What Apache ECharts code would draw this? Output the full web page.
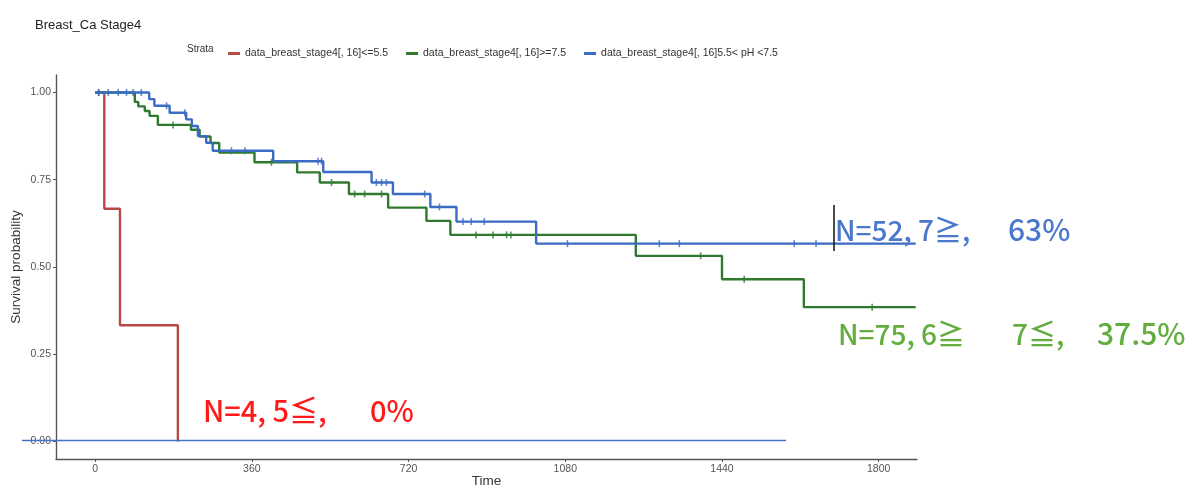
<!DOCTYPE html>
<html>
<head>
<meta charset="utf-8">
<script src="https://cdn.jsdelivr.net/npm/echarts@6/dist/echarts.min.js"></script>
<style>
html,body{margin:0;padding:0;background:#fff;overflow:hidden;}
#c{width:1196px;height:486px;}
</style>
</head>
<body>
<div id="c"></div>
<script>
// ---- data ----
const seriesNames = ['data_breast_stage4[, 16]<=5.5', 'data_breast_stage4[, 16]>=7.5', 'data_breast_stage4[, 16]5.5< pH <7.5'];
const redSteps = [[0,1],[21,0.667],[57,0.333],[190,0]];
const greenSteps = [[0,1],[91,0.973],[99,0.96],[114,0.947],[125,0.933],[144,0.907],[220,0.893],[240,0.874],[265,0.855],[285,0.828],[366,0.800],[464,0.771],[516,0.742],[583,0.709],[673,0.670],[761,0.632],[816,0.592],[1242,0.532],[1440,0.465],[1628,0.385],[1885,0.385]];
const blueSteps = [[0,1],[124,0.981],[136,0.962],[171,0.942],[209,0.923],[222,0.904],[236,0.875],[255,0.856],[270,0.833],[409,0.803],[524,0.772],[635,0.742],[684,0.709],[770,0.672],[830,0.630],[1013,0.567],[1885,0.567]];
const greenCensor = [[8,1],[179,0.907],[405,0.800],[543,0.742],[596,0.709],[619,0.709],[658,0.709],[875,0.592],[914,0.592],[945,0.592],[955,0.592],[1391,0.532],[1491,0.465],[1785,0.385]];
const blueCensor = [[8,1],[30,1],[53,1],[72,1],[87,1],[106,1],[164,0.962],[206,0.942],[313,0.833],[344,0.833],[512,0.803],[520,0.803],[646,0.742],[658,0.742],[669,0.742],[757,0.709],[791,0.672],[845,0.630],[864,0.630],[894,0.630],[1085,0.567],[1296,0.567],[1342,0.567],[1606,0.567],[1656,0.567]];
const xTicks = [0,360,720,1080,1440,1800];
const yTicks = [0,0.25,0.5,0.75,1];
const noteRed = ['N=4, 5≦,', '0%'];
const noteBlue = ['N=52, 7≧,', '63%'];
const noteGreen = ['N=75, 6≧', '7≦,', '37.5%'];

const cRed = '#b84a46', cGreen = '#2f7a2f', cBlue = '#3b6cc4';
const axisFont = 'Liberation Sans';

const chart = echarts.init(document.getElementById('c'), null, {renderer:'canvas', width:1196, height:486});

function stepLine(name, data, color){
  return {name, type:'line', step:'end', data, showSymbol:false, symbol:'none',
    lineStyle:{color, width:2.4}, itemStyle:{color}, animation:false, z:3};
}
function censor(name, data, color){
  return {name, type:'scatter', data, symbol:'rect', symbolSize:[1.6,7],
    itemStyle:{color}, animation:false, z:4, silent:true};
}

const option = {
  backgroundColor:'#fff',
  animation:false,
  title:{text:'Breast_Ca Stage4', left:30, top:14,
    textStyle:{fontFamily:axisFont, fontSize:13, fontWeight:'normal', color:'#222'}},
  legend:{
    data:seriesNames.map((n,i)=>({name:n, icon:'rect'})),
    left:223, top:43, itemWidth:12, itemHeight:3, itemGap:18,
    textStyle:{fontFamily:axisFont, fontSize:10.5, color:'#333'}
  },
  grid:{left:56, width:861, top:75, height:384, containLabel:false, outerBoundsMode:'none'},
  xAxis:{type:'value', min:-90, max:1888,
    name:'Time', nameLocation:'middle', nameGap:15, nameMoveOverlap:false,
    nameTextStyle:{fontFamily:axisFont, fontSize:13.5, color:'#333'},
    axisLine:{show:true, onZero:false, lineStyle:{color:'#555', width:1.4}},
    axisTick:{show:true, length:3, customValues:xTicks, lineStyle:{color:'#555'}},
    axisLabel:{customValues:xTicks, formatter:v=>String(v), fontFamily:axisFont, fontSize:10.5, color:'#555', margin:5},
    splitLine:{show:false}},
  yAxis:{type:'value', min:-0.05, max:1.05,
    name:'Survival probability', nameLocation:'middle', nameGap:33, nameRotate:90, nameMoveOverlap:false,
    nameTextStyle:{fontFamily:axisFont, fontSize:13.5, color:'#333'},
    axisLine:{show:true, onZero:false, lineStyle:{color:'#555', width:1.4}},
    axisTick:{show:true, length:3, customValues:yTicks, lineStyle:{color:'#555'}},
    axisLabel:{customValues:yTicks, formatter:v=>v.toFixed(2), fontFamily:axisFont, fontSize:10.5, color:'#555', margin:5},
    splitLine:{show:false}},
  series:[
    stepLine(seriesNames[0], redSteps, cRed),
    stepLine(seriesNames[1], greenSteps, cGreen),
    stepLine(seriesNames[2], blueSteps, cBlue),
    censor(seriesNames[1], greenCensor, cGreen),
    censor(seriesNames[2], blueCensor, cBlue)
  ],
  graphic:[
    {type:'text', left:187, top:44, style:{text:'Strata', font:'10px "Liberation Sans"', fill:'#333'}},
    {type:'line', shape:{x1:22, y1:440.5, x2:786, y2:440.5}, style:{stroke:'#4472c4', lineWidth:1.5}, z:10},
    {type:'line', shape:{x1:834, y1:205, x2:834, y2:251}, style:{stroke:'#111', lineWidth:1.5}, z:10},
    {type:'text', x:203, y:411, style:{text:noteRed[0], font:'500 29px "Noto Sans CJK KR"', fill:'#ff1a1a', verticalAlign:'middle'}, z:10},
    {type:'text', x:370, y:411, style:{text:noteRed[1], font:'500 29px "Noto Sans CJK KR"', fill:'#ff1a1a', verticalAlign:'middle'}, z:10},
    {type:'text', x:835, y:230, style:{text:noteBlue[0], font:'500 28px "Noto Sans CJK KR"', fill:'#4a78cc', verticalAlign:'middle'}, z:10},
    {type:'text', x:1008, y:230, style:{text:noteBlue[1], font:'500 30px "Noto Sans CJK KR"', fill:'#4a78cc', verticalAlign:'middle'}, z:10},
    {type:'text', x:838, y:334, style:{text:noteGreen[0], font:'500 28px "Noto Sans CJK KR"', fill:'#62ad3e', verticalAlign:'middle'}, z:10},
    {type:'text', x:1012, y:334, style:{text:noteGreen[1], font:'500 28px "Noto Sans CJK KR"', fill:'#62ad3e', verticalAlign:'middle'}, z:10},
    {type:'text', x:1097, y:334, style:{text:noteGreen[2], font:'500 30px "Noto Sans CJK KR"', fill:'#62ad3e', verticalAlign:'middle'}, z:10}
  ]
};
chart.setOption(option);
</script>
</body>
</html>
